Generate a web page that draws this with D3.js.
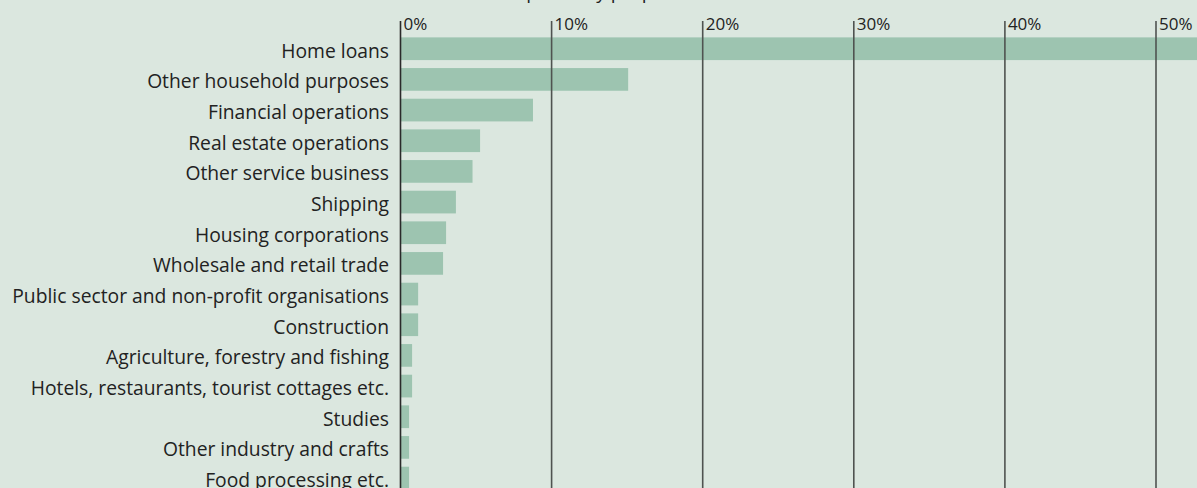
<!DOCTYPE html>
<html>
<head>
<meta charset="utf-8">
<script src="https://cdn.jsdelivr.net/npm/d3@7"></script>
<style>
  html, body { margin: 0; padding: 0; background: #dbe7df; }
  svg { display: block; font-family: "Open Sans", "Noto Sans", sans-serif; }
</style>
</head>
<body>
<svg id="chart" width="1197" height="488"></svg>
<script>
// Lending by purpose, share of total (per cent)
const categories = [
  "Home loans",
  "Other household purposes",
  "Financial operations",
  "Real estate operations",
  "Other service business",
  "Shipping",
  "Housing corporations",
  "Wholesale and retail trade",
  "Public sector and non-profit organisations",
  "Construction",
  "Agriculture, forestry and fishing",
  "Hotels, restaurants, tourist cottages etc.",
  "Studies",
  "Other industry and crafts",
  "Food processing etc."
];
const shares = [56.0, 15.1, 8.8, 5.3, 4.8, 3.7, 3.05, 2.85, 1.2, 1.2, 0.8, 0.8, 0.6, 0.6, 0.6];
const tickValues = [0, 10, 20, 30, 40, 50];
const title = "Loans to the public by purpose";

const W = 1197, H = 488;
const svg = d3.select("#chart");

const x = d3.scaleLinear().domain([0, 50]).range([400, 1155.5]);
const y = d3.scaleBand().domain(categories).range([33.4, 493.4])
  .paddingInner(0.26).paddingOuter(0.13);

// title (sits above the visible area)
svg.append("text")
  .attr("x", 548).attr("y", -1)
  .attr("text-anchor", "middle")
  .attr("font-size", 19).attr("fill", "#222")
  .text(title);

// bars
svg.append("g").selectAll("rect")
  .data(categories)
  .join("rect")
  .attr("x", x(0))
  .attr("y", d => y(d))
  .attr("width", (d, i) => x(shares[i]) - x(0))
  .attr("height", y.bandwidth())
  .attr("fill", "#9dc4b0");

// category labels
svg.append("g").selectAll("text")
  .data(categories)
  .join("text")
  .attr("x", x(0) - 11)
  .attr("y", d => y(d) + y.bandwidth() / 2)
  .attr("dy", "0.46em")
  .attr("text-anchor", "end")
  .attr("font-size", 19.3)
  .attr("fill", "#222")
  .text(d => d);

// vertical grid lines with tick labels at top
const axis = d3.axisTop(x)
  .tickValues(tickValues)
  .tickFormat(d => d + "%")
  .tickSize(-(H - 21));
const gAxis = svg.append("g")
  .attr("transform", "translate(0,21)")
  .call(axis);
gAxis.select(".domain").remove();
gAxis.selectAll(".tick line")
  .attr("stroke", d => d === 0 ? "#2a2a2a" : "#4f5350")
  .attr("stroke-width", 1.6);
gAxis.selectAll(".tick text")
  .attr("text-anchor", "start")
  .attr("x", 3)
  .attr("y", 0)
  .attr("dy", "0.5em")
  .attr("font-size", 17)
  .attr("fill", "#222")
  .attr("font-family", "\"Open Sans\", \"Noto Sans\", sans-serif");
</script>
</body>
</html>
